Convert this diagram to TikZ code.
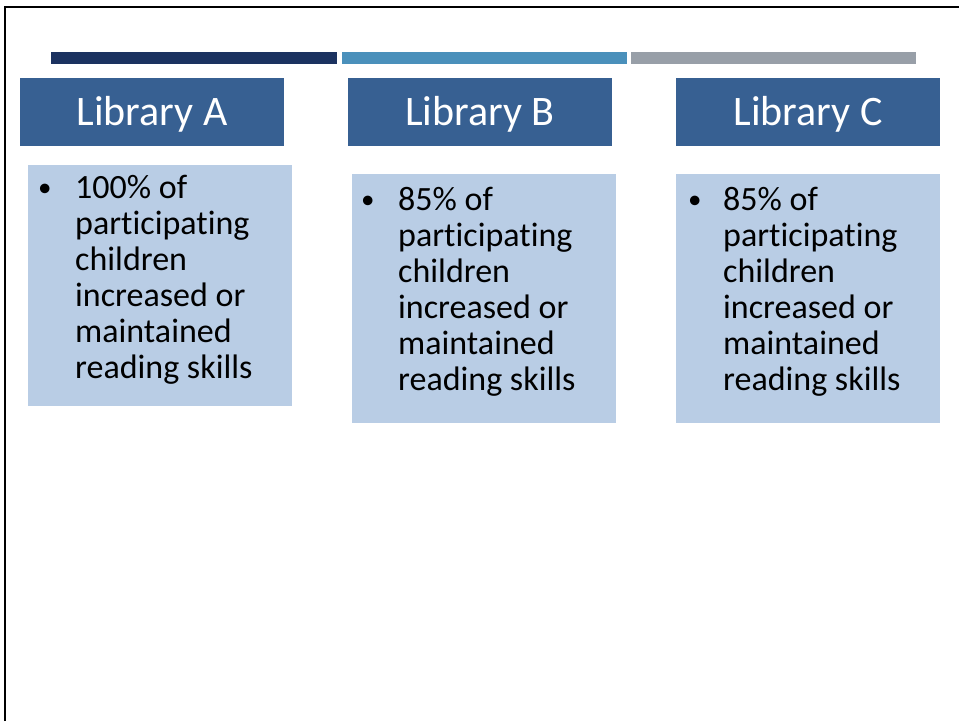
\documentclass[tikz,border=0pt]{standalone}
\usepackage{fontspec}
\setmainfont{Carlito}[Ligatures={NoCommon,NoRare,NoDiscretionary}]

\definecolor{bardark}{HTML}{1B3260}
\definecolor{barmid}{HTML}{4A90BB}
\definecolor{bargrey}{HTML}{989FA8}
\definecolor{hdrblue}{HTML}{376092}
\definecolor{bodyblue}{HTML}{B9CDE5}

\tikzset{
  hdrbox/.style={rectangle, fill=hdrblue, text=white, inner sep=0pt,
    minimum width=264pt, minimum height=68pt,
    text height=27pt, text depth=0pt, font=\fontsize{42}{50}\selectfont},
  bodybox/.style={rectangle, fill=bodyblue, inner sep=0pt,
    minimum width=264pt, anchor=north west},
  bodytext/.style={anchor=base west, align=left, inner sep=0pt,
    font=\fontsize{34}{36}\selectfont},
  dotmark/.style={anchor=base west, inner sep=0pt,
    font=\fontsize{27}{30}\selectfont}
}

\begin{document}
\begin{tikzpicture}[x=1pt,y=-1pt]

            \useasboundingbox (0,0) rectangle (959,721);
            \fill[white] (0,0) rectangle (959,721);
            \draw[line width=2.5pt] (5,721) |- (959,7);

            % coloured bars on top
            \fill[bardark] (51,52) rectangle (337,64);
            \fill[barmid] (342,52) rectangle (627,64);
            \fill[bargrey] (631,52) rectangle (916,64);

            \node[hdrbox]
            	(hdrA) at (152,112) {Library A};
            \node[hdrbox]
            	(hdrB) at (480,112) {Library B};
            \node[hdrbox]
            	(hdrC) at (808,112) {Library C};

            \node[bodybox,minimum height=241pt]
            	(bodyA) at (28,165) {};
            \node[bodybox,minimum height=249pt]
            	(bodyB) at (352,174) {};
            \node[bodybox,minimum height=249pt]
            	(bodyC) at (676,174) {};

            % base of a text node = baseline of its last line
            \node[dotmark]
            	(dotA) at (38,196) {\textbullet};
            \node[bodytext]
            	(txtA) at (75,378) {100\% of\\participating\\children\\increased or\\maintained\\reading skills};
            \node[dotmark]
            	(dotB) at (361,208) {\textbullet};
            \node[bodytext]
            	(txtB) at (398,390) {85\% of\\participating\\children\\increased or\\maintained\\reading skills};
            \node[dotmark]
            	(dotC) at (688,208) {\textbullet};
            \node[bodytext]
            	(txtC) at (723,390) {85\% of\\participating\\children\\increased or\\maintained\\reading skills};
        \end{tikzpicture}
\end{document}
